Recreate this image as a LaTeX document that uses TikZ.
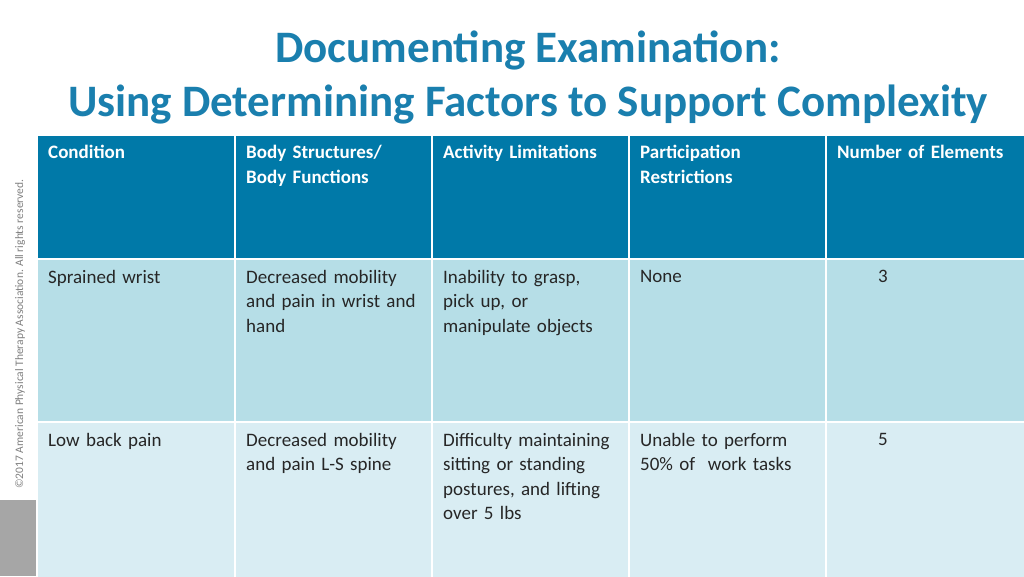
\documentclass[tikz,border=0pt]{standalone}
\usepackage{fontspec}
\setmainfont{Carlito}
\begin{document}
\begin{tikzpicture}[x=1pt,y=-1pt,
  hdr/.style={fill=hcol,draw=white,line width=1.5pt},
  ra/.style={fill=r1col,draw=white,line width=1.5pt},
  rb/.style={fill=r2col,draw=white,line width=1.5pt},
  ht/.style={anchor=north west,text=white,font=\fontsize{19}{24.5}\selectfont\bfseries,align=left,text width=185pt,inner sep=0pt},
  bt/.style={anchor=north west,text=black!85,font=\fontsize{19}{24.5}\selectfont,align=left,text width=185pt,inner sep=0pt}]
\definecolor{tcol}{HTML}{1A7FAE}
\definecolor{hcol}{HTML}{0079A8}
\definecolor{r1col}{HTML}{B6DEE7}
\definecolor{r2col}{HTML}{D9EDF3}
\useasboundingbox (0,0) rectangle (1024,576);
\fill[white] (0,0) rectangle (1024,576);
\node[font=\fontsize{45}{54}\selectfont\bfseries,text=tcol,align=center] (title) at (528,77) {Documenting Examination:\\Using Determining Factors to Support Complexity};
\fill[gray!70] (0,500) rectangle (37,576);
\node[rotate=90,font=\fontsize{11.5}{12}\selectfont,text=gray] (copy) at (20,334) {©2017 American Physical Therapy Association. All rights reserved.};
\foreach \xa/\xb [count=\i] in {37/235,235/432,432/629,629/826,826/1026}{
  \path[hdr] (\xa,135) rectangle (\xb,259);
  \path[ra] (\xa,259) rectangle (\xb,422);
  \path[rb] (\xa,422) rectangle (\xb,578);
}
\node[ht] (h1) at (48,145) {Condition};
\node[ht] (h2) at (246,145) {Body Structures/\\Body Functions};
\node[ht] (h3) at (443,145) {Activity Limitations};
\node[ht] (h4) at (640,145) {Participation\\Restrictions};
\node[ht] (h5) at (837,145) {Number of Elements};
\node[bt] (a1) at (48,270) {Sprained wrist};
\node[bt] (a2) at (246,270) {Decreased mobility\\and pain in wrist and\\hand};
\node[bt] (a3) at (443,270) {Inability to grasp,\\pick up, or\\manipulate objects};
\node[bt] (a4) at (640,270) {None};
\node[bt] (a5) at (878,270) {3};
\node[bt] (b1) at (48,433) {Low back pain};
\node[bt] (b2) at (246,433) {Decreased mobility\\and pain L-S spine};
\node[bt] (b3) at (443,433) {Difficulty maintaining\\sitting or standing\\postures, and lifting\\over 5 lbs};
\node[bt] (b4) at (640,433) {Unable to perform\\50\% of\ \ work tasks};
\node[bt] (b5) at (878,433) {5};
\end{tikzpicture}
\end{document}
